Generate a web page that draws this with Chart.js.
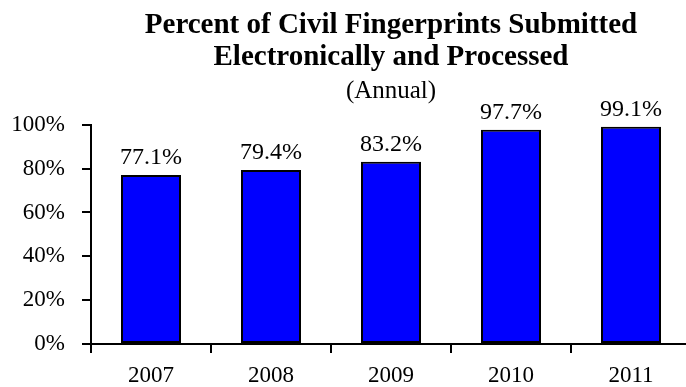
<!DOCTYPE html>
<html lang="en">
<head>
  <meta charset="UTF-8" />
  <title>Percent of Civil Fingerprints Submitted Electronically and Processed</title>
  <script src="https://cdn.jsdelivr.net/npm/chart.js"></script>
  <style>
    body { margin: 0; background: #fff; overflow: hidden; }
    /* the original chart is a bit wider than the picture and is cut at the right */
    #wrap { width: 686px; height: 387px; overflow: hidden; }
  </style>
</head>
<body>
  <div id="wrap"><canvas id="fpChart" width="772" height="387"></canvas></div>

  <script>
    const years = ['2007', '2008', '2009', '2010', '2011'];
    const percentProcessed = [77.1, 79.4, 83.2, 97.7, 99.1];
    const titleLines = ['Percent of Civil Fingerprints Submitted', 'Electronically and Processed'];
    const subtitleText = '(Annual)';

    const serif = 'Garamond, "Liberation Serif", serif';

    // value above each bar
    const barLabels = {
      id: 'barLabels',
      afterDatasetsDraw(chart) {
        const c = chart.ctx;
        const meta = chart.getDatasetMeta(0);
        c.save();
        c.font = '24px ' + serif;
        c.fillStyle = '#000';
        c.textAlign = 'center';
        c.textBaseline = 'alphabetic';
        meta.data.forEach((bar, i) => {
          c.fillText(percentProcessed[i].toFixed(1) + '%', bar.x, bar.y - 11);
        });
        c.restore();
      }
    };

    new Chart(document.getElementById('fpChart'), {
      type: 'bar',
      data: {
        labels: years,
        datasets: [{
          data: percentProcessed,
          backgroundColor: '#0000FF',
          borderColor: '#000',
          borderWidth: 2,
          borderSkipped: false,
          categoryPercentage: 1,
          barPercentage: 0.5
        }]
      },
      options: {
        responsive: false,
        animation: false,
        layout: { padding: { left: 8, right: 81, top: 0, bottom: 0 } },
        plugins: {
          legend: { display: false },
          tooltip: { enabled: false },
          // titles centred over the plot area, not the whole canvas
          title: {
            display: true,
            fullSize: false,
            text: titleLines,
            color: '#000',
            font: { family: serif, size: 29, weight: 'bold', lineHeight: 1.1 },
            padding: { top: 10, bottom: 0 }
          },
          subtitle: {
            display: true,
            fullSize: false,
            text: subtitleText,
            color: '#000',
            font: { family: serif, size: 25, lineHeight: 1.2 },
            padding: { top: 3, bottom: 18 }
          }
        },
        scales: {
          x: {
            afterFit: s => { s.height = 43; },
            grid: { drawOnChartArea: false, drawTicks: true, tickLength: 9, color: '#000', lineWidth: 2 },
            border: { display: true, color: '#000', width: 2 },
            ticks: { color: '#000', font: { family: serif, size: 23, lineHeight: 1 }, padding: 11 }
          },
          y: {
            min: 0,
            max: 100,
            afterFit: s => { s.width = 83; },
            grid: { drawOnChartArea: false, drawTicks: true, tickLength: 9, color: '#000', lineWidth: 2 },
            border: { display: true, color: '#000', width: 2 },
            ticks: {
              stepSize: 20,
              color: '#000',
              font: { family: serif, size: 23 },
              padding: 17,
              callback: v => v + '%'
            }
          }
        }
      },
      plugins: [barLabels]
    });
  </script>
</body>
</html>
